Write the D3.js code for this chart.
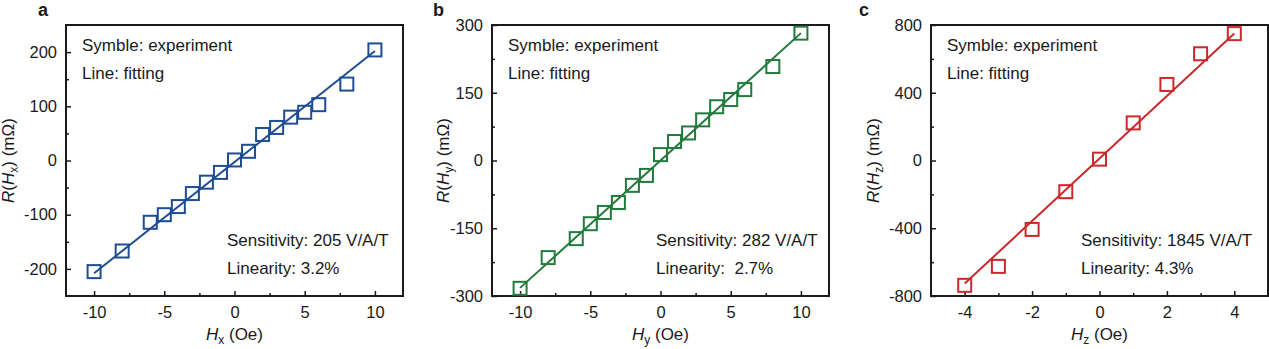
<!DOCTYPE html>
<html>
<head>
<meta charset="utf-8">
<script src="https://cdn.jsdelivr.net/npm/d3@7"></script>
<style>
  body { margin: 0; background: #fff; }
  svg { font-family: "Liberation Sans", Arial, sans-serif; fill: #1a1a1a; }
  .tick text { font-size: 16.5px; fill: #1a1a1a; }
  .tick line { stroke: #1a1a1a; stroke-width: 1.5; }
  .note { font-size: 17px; }
  .title { font-size: 17px; }
  .panel_label { font-size: 18px; font-weight: bold; }
</style>
</head>
<body>
<svg id="chart" width="1269" height="349"></svg>
<script>
// applied field steps (Oe)
let hxField = [-10, -8, -6, -5, -4, -3, -2, -1, 0, 1, 2, 3, 4, 5, 6, 8, 10],
    hyField = [-10, -8, -6, -5, -4, -3, -2, -1, 0, 1, 2, 3, 4, 5, 6, 8, 10],
    hzField = [-4, -3, -2, -1, 0, 1, 2, 3, 4];

// measured resistance (mOhm)
let rHx = [-205, -167, -114, -100, -85, -61, -40, -22, 1, 17, 48, 61, 80, 89, 103, 141, 204],
    rHy = [-283, -215, -173, -140, -115, -93, -55, -33, 13, 42, 61, 90, 119, 135, 157, 208, 282],
    rHz = [-737, -625, -407, -184, 8, 222, 449, 630, 749];

// fit results, V/A/T and %
let sensitivity = [205, 282, 1845],
    linearity = ["3.2%", " 2.7%", "4.3%"],
    axisNames = ["x", "y", "z"],
    panelLetters = ["a", "b", "c"];

let xTicks = [[-10, -5, 0, 5, 10], [-10, -5, 0, 5, 10], [-4, -2, 0, 2, 4]],
    yTicks = [[-200, -100, 0, 100, 200], [-300, -150, 0, 150, 300], [-800, -400, 0, 400, 800]],
    xDomains = [[-12, 12], [-12, 12], [-5, 5]],
    yDomains = [[-250, 250], [-300, 300], [-800, 800]];

let fields = [hxField, hyField, hzField],
    values = [rHx, rHy, rHz],
    colors = ["#1f4d94", "#227a3c", "#cc282c"];

let boxTop = 25, boxBottom = 296, boxWidth = 337,
    lefts = [66, 492, 931],
    yTitleX = [14, 449, 879],
    letterX = [38, 433, 859],
    noteX = [161, 164, 150];

let svg = d3.select("#chart");

function draw_panel(i) {
  let left = lefts[i], right = left + boxWidth;
  let x = d3.scaleLinear().domain(xDomains[i]).range([left, right]),
      y = d3.scaleLinear().domain(yDomains[i]).range([boxBottom, boxTop]);
  let g = svg.append("g");

  // minor ticks sit halfway between the majors
  let mid = t => d3.pairs(t).map(p => (p[0] + p[1]) / 2);
  let plain = d => String(d);  // keep the ascii hyphen for negatives

  g.append("g").attr("transform", `translate(0, ${boxBottom})`)
    .call(d3.axisBottom(x).tickValues(xTicks[i]).tickSize(-5).tickPadding(10).tickFormat(plain));
  g.append("g").attr("transform", `translate(0, ${boxBottom})`)
    .call(d3.axisBottom(x).tickValues(mid(xTicks[i])).tickSize(-3).tickFormat(""));
  g.append("g").attr("transform", `translate(${left}, 0)`)
    .call(d3.axisLeft(y).tickValues(yTicks[i]).tickSize(-5).tickPadding(9).tickFormat(plain));
  g.append("g").attr("transform", `translate(${left}, 0)`)
    .call(d3.axisLeft(y).tickValues(mid(yTicks[i])).tickSize(-3).tickFormat(""));
  g.selectAll(".domain").remove();
  g.selectAll("g").attr("font-family", null).attr("font-size", null);

  g.append("rect")
    .attr("x", left).attr("y", boxTop)
    .attr("width", boxWidth).attr("height", boxBottom - boxTop)
    .attr("fill", "none").attr("stroke", "#1a1a1a").attr("stroke-width", 2);

  // linear fit with the slope given by the sensitivity (1 V/A/T = 0.1 mOhm/Oe)
  let f = fields[i], v = values[i];
  let slope = sensitivity[i] / 10,
      intercept = d3.mean(v) - slope * d3.mean(f);
  let ends = d3.extent(f);
  g.append("line")
    .attr("x1", x(ends[0])).attr("y1", y(slope * ends[0] + intercept))
    .attr("x2", x(ends[1])).attr("y2", y(slope * ends[1] + intercept))
    .attr("stroke", colors[i]).attr("stroke-width", 2);

  let s = 13;
  g.selectAll("rect.pt")
    .data(f.map((d, k) => [d, v[k]])).enter()
    .append("rect")
    .attr("class", "pt")
    .attr("x", d => x(d[0]) - s / 2)
    .attr("y", d => y(d[1]) - s / 2)
    .attr("width", s).attr("height", s)
    .attr("fill", "none").attr("stroke", colors[i]).attr("stroke-width", 2);

  // notes inside the box
  g.append("text").attr("class", "note").attr("x", left + 16).attr("y", boxTop + 26).text("Symble: experiment");
  g.append("text").attr("class", "note").attr("x", left + 16).attr("y", boxTop + 54).text("Line: fitting");
  g.append("text").attr("class", "note").attr("x", left + noteX[i])
    .attr("y", boxBottom - 50).text(`Sensitivity: ${sensitivity[i]} V/A/T`);
  g.append("text").attr("class", "note").attr("x", left + noteX[i])
    .attr("y", boxBottom - 22).attr("xml:space", "preserve").text(`Linearity: ${linearity[i]}`);

  // axis titles
  let n = axisNames[i];
  let xt = g.append("text").attr("class", "title")
    .attr("x", (left + right) / 2).attr("y", 340).attr("text-anchor", "middle");
  xt.append("tspan").attr("font-style", "italic").text("H");
  xt.append("tspan").attr("font-size", 12).attr("dy", 4).text(n);
  xt.append("tspan").attr("dy", -4).text(" (Oe)");

  let yt = g.append("text").attr("class", "title")
    .attr("transform", `translate(${yTitleX[i]}, ${(boxTop + boxBottom) / 2}) rotate(-90)`)
    .attr("text-anchor", "middle");
  yt.append("tspan").attr("font-style", "italic").text("R");
  yt.append("tspan").text("(");
  yt.append("tspan").attr("font-style", "italic").text("H");
  yt.append("tspan").attr("font-size", 12).attr("dy", 4).text(n);
  yt.append("tspan").attr("dy", -4).text(") (mΩ)");

  g.append("text").attr("class", "panel_label")
    .attr("x", letterX[i]).attr("y", 16).text(panelLetters[i]);
}

[0, 1, 2].forEach(draw_panel);
</script>
</body>
</html>
